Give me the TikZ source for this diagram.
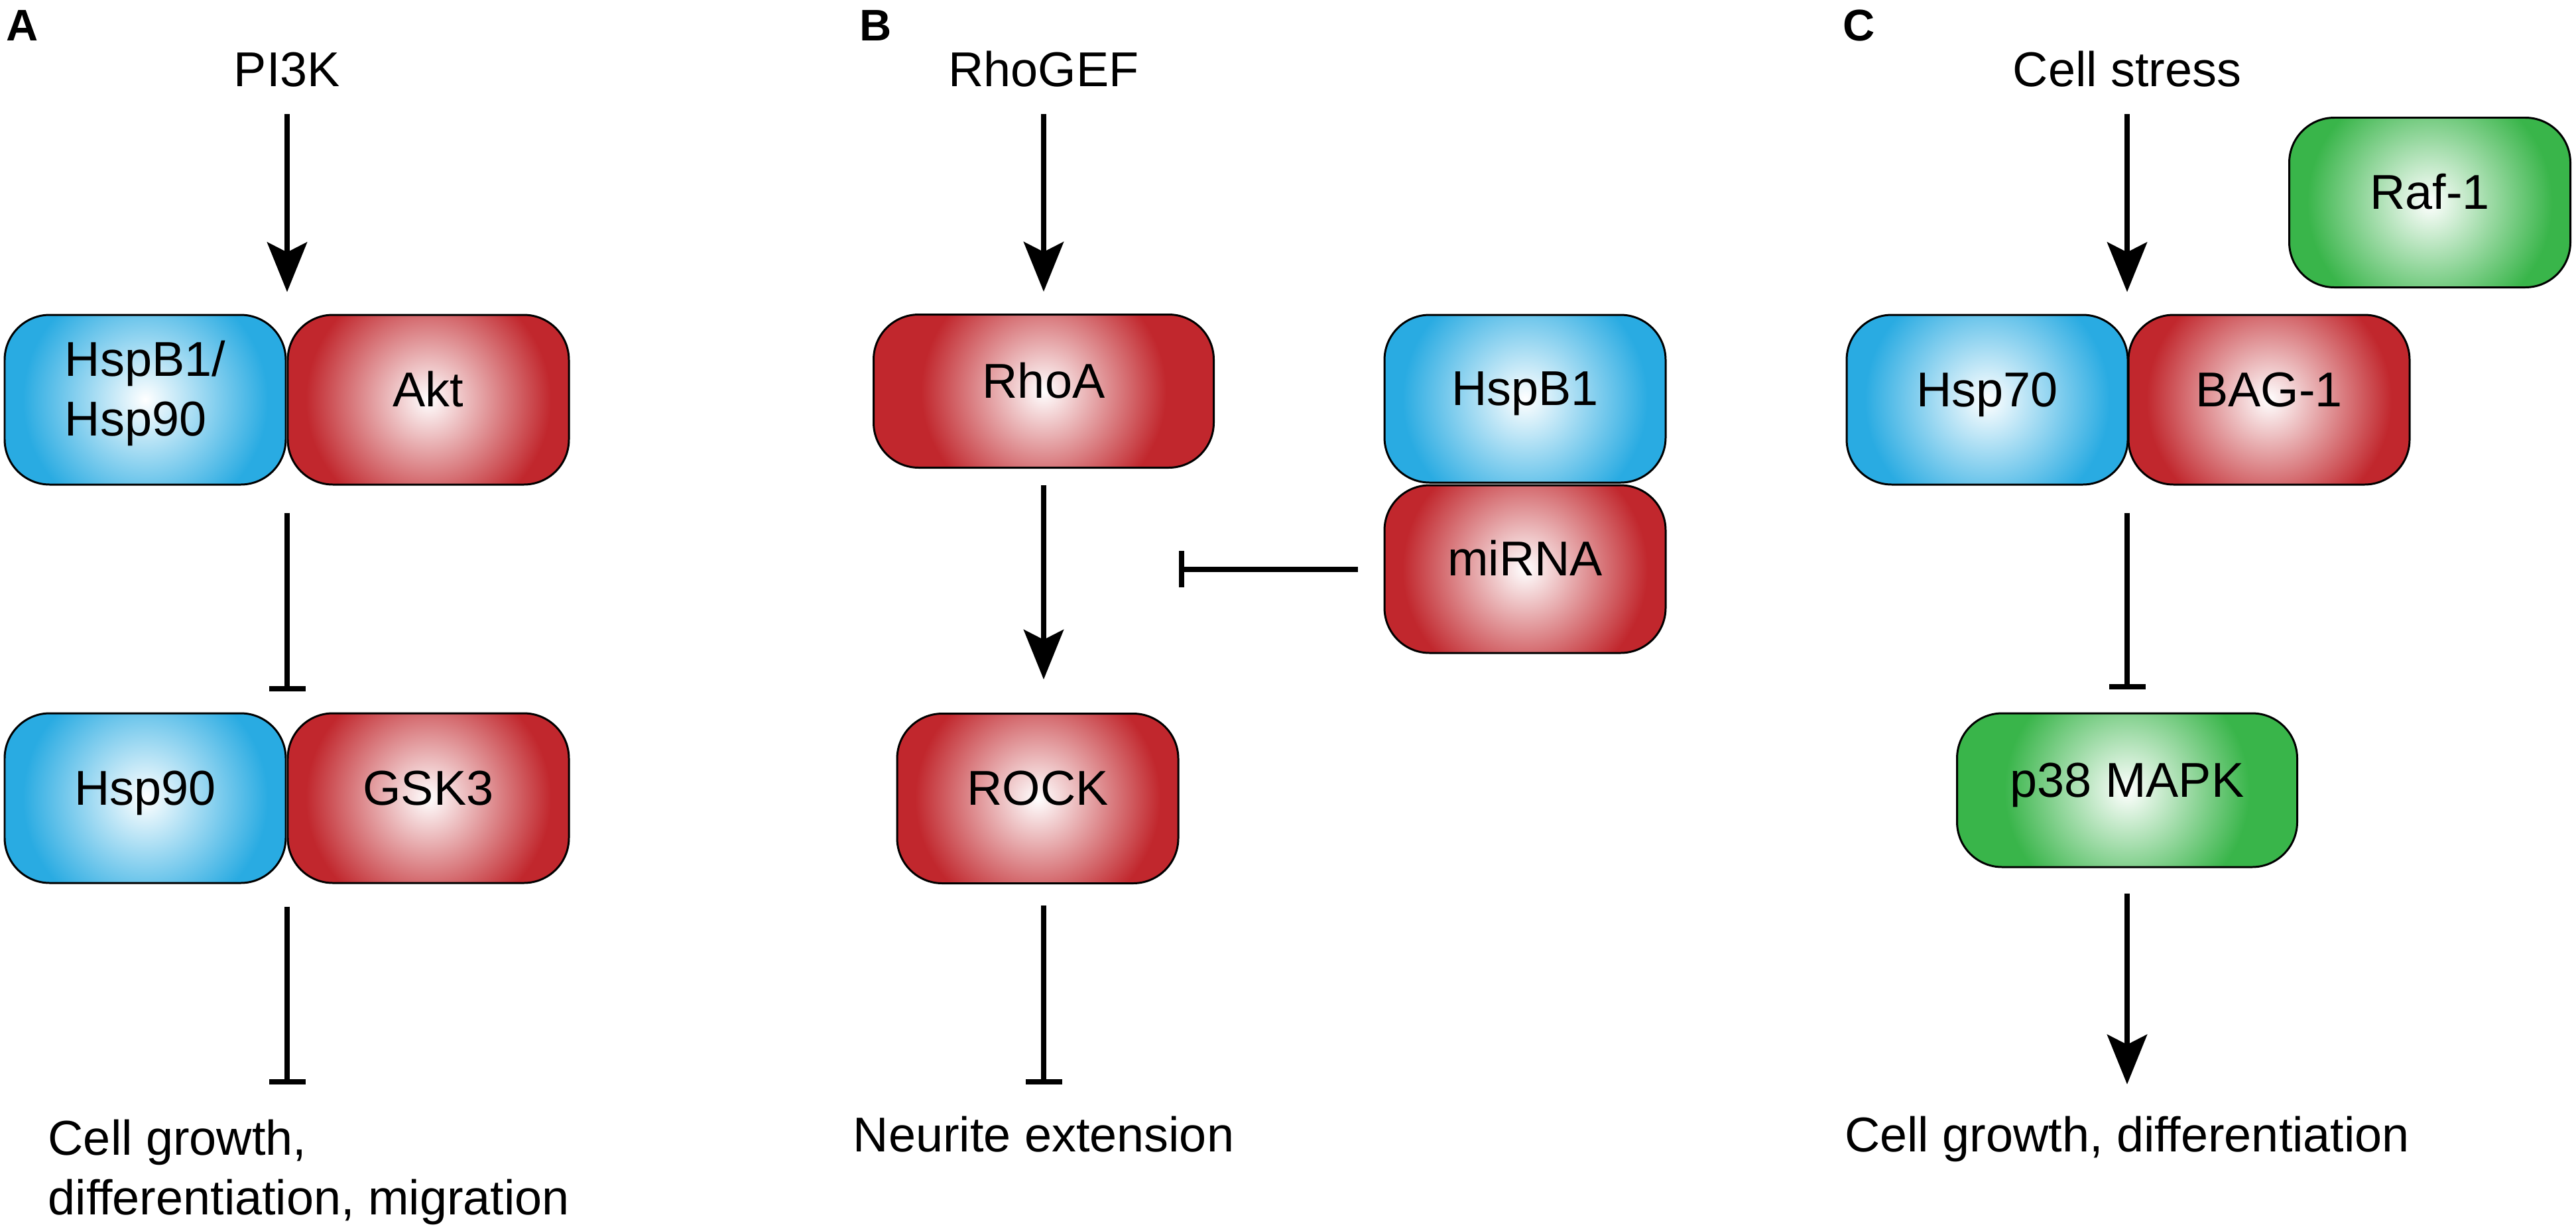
\documentclass[tikz,border=0pt]{standalone}
\usepackage{fontspec}
\setmainfont{Liberation Sans}
\usepackage{tikz}
\usetikzlibrary{arrows.meta}
\usepackage{xcolor}
\definecolor{protred}{RGB}{193,39,45}
\definecolor{protblue}{RGB}{41,171,226}
\definecolor{protgreen}{RGB}{57,181,74}
\colorlet{protcol}{protred}
\pgfdeclareradialshading[protcol]{protshade}{\pgfpointorigin}
  {color(0bp)=(white); color(14.45bp)=(protcol); color(25bp)=(protcol); color(50bp)=(protcol)}
\newcommand{\protfont}{\fontsize{21}{25.6}\selectfont}
\tikzset{
  >=Stealth,
}

\begin{document}
\begin{tikzpicture}[
  every node/.style={font=\protfont,inner sep=0pt},
  prot/.style={draw,line width=0.85pt,rounded corners=0.68cm,
               minimum width=4.24cm,minimum height=2.56cm,
               text height=0.77em,text depth=0.2em,fill=#1,
               path picture={\colorlet{protcol}{#1}
                 \shade[shading=protshade]
                 (path picture bounding box.center) circle (3.2cm);}},
  wide/.style={minimum width=5.13cm,minimum height=2.31cm},
  lab/.style={anchor=base},
  panel/.style={anchor=base west,font=\fontsize{19}{20}\selectfont\bfseries},
  act/.style={line width=0.08cm,-{Stealth[length=0.75cm,width=0.6cm,inset=0.15cm]}},
  inh/.style={line width=0.08cm,-{Bar[width=0.55cm]}}
]
\useasboundingbox (0,0) rectangle (38.85,-18.5);

\node[panel] (pa) at (0.09,-0.61) {A};
\node[lab] (pik) at (4.33,-1.30) {PI3K};
\node[prot=protblue] (hspa) at (2.19,-6.03)
  {\begin{tabular}{@{}l@{}}HspB1/\\Hsp90\end{tabular}};
\node[prot=protred] (akt) at (6.46,-6.03) {Akt};
\node[prot=protblue] (hspb) at (2.19,-12.04) {Hsp90};
\node[prot=protred] (gsk) at (6.46,-12.04) {GSK3};
\node[anchor=north west,align=left] (outa) at (0.72,-16.88)
  {Cell growth,\\differentiation, migration};

\draw[act,shorten <=0.41cm,shorten >=0.33cm] (pik.south) -- (pik.south |- akt.north);
\draw[inh,shorten <=0.41cm,shorten >=0.32cm] (pik.south |- akt.south) -- (pik.south |- gsk.north);
\draw[inh,shorten <=0.34cm,shorten >=0.52cm] (pik.south |- gsk.south) -- (pik.south |- outa.north);

\node[panel] (pb) at (12.96,-0.61) {B};
\node[lab] (rgef) at (15.74,-1.30) {RhoGEF};
\node[prot=protred,wide] (rhoa) at (15.74,-5.90) {RhoA};
\node[prot=protblue,minimum height=2.53cm] (hspc) at (23.00,-6.015) {HspB1};
\node[prot=protred,minimum height=2.53cm] (mirna) at (23.00,-8.585) {miRNA};
\node[prot=protred] (rock) at (15.65,-12.045) {ROCK};
\node[lab] (neur) at (15.74,-17.37) {Neurite extension};
\coordinate (blk) at (17.78,-8.585);

\draw[act,shorten <=0.41cm,shorten >=0.33cm] (rgef.south) -- (rgef.south |- rhoa.north);
\draw[act,shorten <=0.25cm,shorten >=0.50cm] (rhoa.south) -- (rhoa.south |- rock.north);
\draw[inh,shorten <=0.39cm] (mirna.west) -- (blk);
\draw[inh,shorten <=0.32cm,shorten >=0.47cm] (rhoa.south |- rock.south) -- (rhoa.south |- neur.north);

\node[panel] (pc) at (27.79,-0.61) {C};
\node[lab] (cstr) at (32.08,-1.30) {Cell stress};
\node[prot=protgreen] (raf) at (36.645,-3.055) {Raf-1};
\node[prot=protblue] (hsp70) at (29.97,-6.03) {Hsp70};
\node[prot=protred] (bag) at (34.22,-6.03) {BAG-1};
\node[prot=protgreen,wide,minimum height=2.32cm] (p38) at (32.08,-11.92) {p38 MAPK};
\node[lab] (outc) at (32.08,-17.37) {Cell growth, differentiation};

\draw[act,shorten <=0.41cm,shorten >=0.33cm] (cstr.south) -- (cstr.south |- bag.north);
\draw[inh,shorten <=0.41cm,shorten >=0.35cm] (cstr.south |- bag.south) -- (cstr.south |- p38.north);
\draw[act,shorten <=0.38cm,shorten >=0.47cm] (p38.south) -- (p38.south |- outc.north);

\end{tikzpicture}
\end{document}
